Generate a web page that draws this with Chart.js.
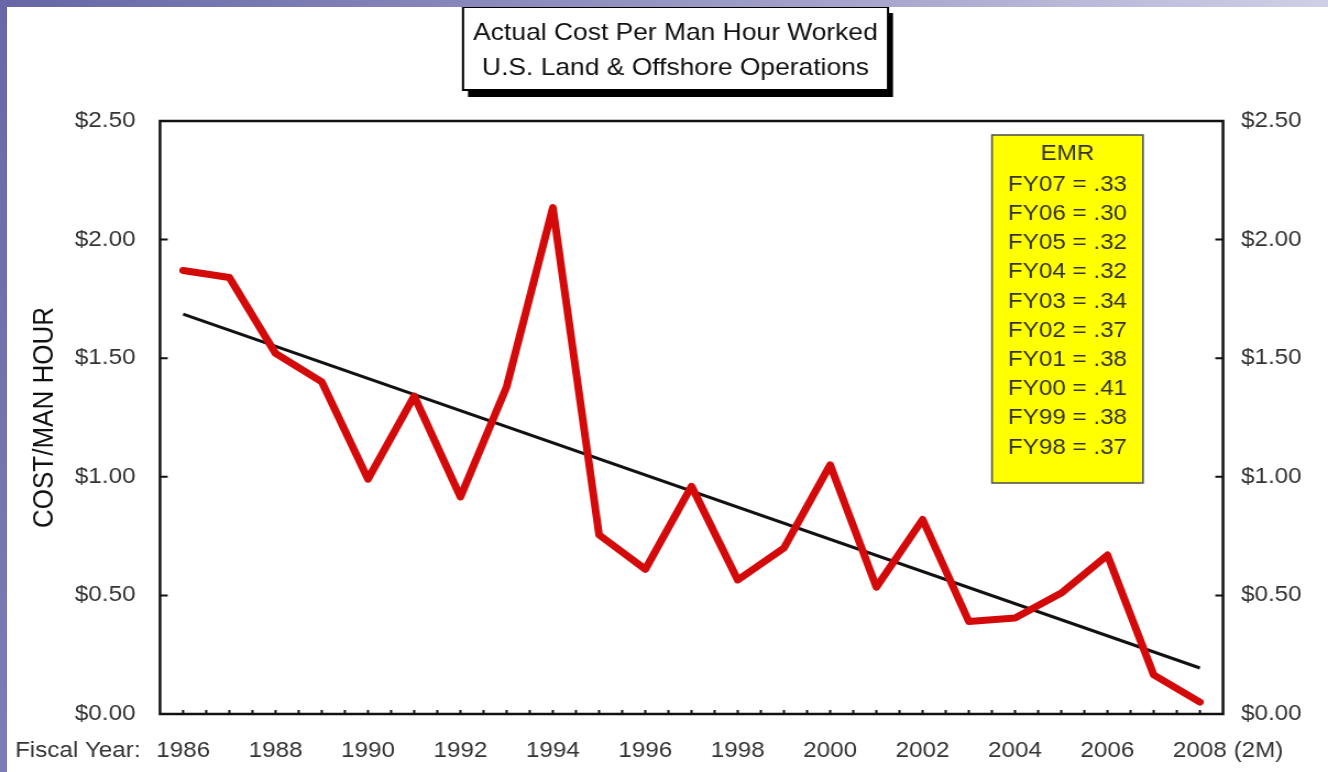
<!DOCTYPE html>
<html>
<head>
<meta charset="utf-8">
<script src="https://cdn.jsdelivr.net/npm/chart.js@4.4.1/dist/chart.umd.min.js"></script>
<style>
    html, body { margin: 0; padding: 0; background: #fff; overflow: hidden; }
    #stage { position: relative; width: 1328px; height: 772px; overflow: hidden; background: #fff; }
    #wrap { position: absolute; left: 0; top: 0; width: 1207px; height: 772px; transform-origin: 0 0; }
    #bandTop { position: absolute; left: 0; top: 0; width: 1328px; height: 7px; z-index: 2;
        background: linear-gradient(to right, #6666a6, #9a9ac6 55%, #cfcfe6); }
    #bandLeft { position: absolute; left: 0; top: 0; width: 7px; height: 772px; z-index: 2;
        background: linear-gradient(to bottom, #6868a8, #7c7cb6); }
</style>
</head>
<body>
<div id="stage">
    <div id="bandTop"></div>
    <div id="bandLeft"></div>
    <div id="wrap"><canvas id="chartCusto"></canvas></div>
</div>
<script>
// dados
const years = ['1986', '1987', '1988', '1989', '1990', '1991', '1992', '1993', '1994', '1995', '1996', '1997',
               '1998', '1999', '2000', '2001', '2002', '2003', '2004', '2005', '2006', '2007', '2008'];
const costPerManHour = [1.87, 1.84, 1.52, 1.40, 0.99, 1.34, 0.915, 1.38, 2.135, 0.755, 0.61, 0.96,
                        0.565, 0.70, 1.05, 0.535, 0.82, 0.39, 0.405, 0.51, 0.67, 0.165, 0.05];
// linha de tendencia: so as pontas
const trendLine = [1.686, null, null, null, null, null, null, null, null, null, null, null,
                   null, null, null, null, null, null, null, null, null, null, 0.194];
const yTickValues = [0, 0.5, 1.0, 1.5, 2.0, 2.5];
const titleLines = ['Actual Cost Per Man Hour Worked', 'U.S. Land & Offshore Operations'];
const emrTitle = 'EMR';
const emrYears = ['FY07', 'FY06', 'FY05', 'FY04', 'FY03', 'FY02', 'FY01', 'FY00', 'FY99', 'FY98'];
const emrValues = ['.33', '.30', '.32', '.32', '.34', '.37', '.38', '.41', '.38', '.37'];

const FONT = "'Liberation Sans', Arial, Helvetica, sans-serif";
const SX = 1328 / 1207; // a imagem original e esticada na horizontal
document.getElementById('wrap').style.transform = 'scaleX(' + SX + ')';
const px = x => x / SX;

const decorPlugin = {
    id: 'decor',
    afterDatasetsDraw(chart) {
        const ctx = chart.ctx;
        const a = chart.chartArea;
        const xs = chart.scales.x;
        const ys = chart.scales.y;
        ctx.save();

        // moldura
        ctx.strokeStyle = '#111';
        ctx.lineWidth = 2.5;
        ctx.strokeRect(a.left, a.top, a.right - a.left, a.bottom - a.top);

        // marcas internas
        ctx.lineWidth = 2;
        ctx.beginPath();
        yTickValues.forEach(v => {
            const y = ys.getPixelForValue(v);
            ctx.moveTo(a.left, y); ctx.lineTo(a.left + 7, y);
            ctx.moveTo(a.right, y); ctx.lineTo(a.right - 7, y);
        });
        for (let i = 0; i < years.length; i++) {
            const x = xs.getPixelForValue(i);
            ctx.moveTo(x, a.bottom); ctx.lineTo(x, a.bottom - 4);
            if (i < years.length - 1) {
                const xm = (x + xs.getPixelForValue(i + 1)) / 2;
                ctx.moveTo(xm, a.bottom); ctx.lineTo(xm, a.bottom - 4);
            }
        }
        ctx.stroke();

        // caixa EMR
        const bx = px(992), bw = px(1143) - px(992);
        ctx.fillStyle = '#ffff00';
        ctx.fillRect(bx, 135, bw, 348);
        ctx.strokeStyle = '#555';
        ctx.lineWidth = 1.6;
        ctx.strokeRect(bx, 135, bw, 348);
        ctx.fillStyle = '#333';
        ctx.font = '22px ' + FONT;
        ctx.textAlign = 'center';
        ctx.textBaseline = 'alphabetic';
        const cx = bx + bw / 2;
        ctx.fillText(emrTitle, cx, 160);
        emrYears.forEach((fy, i) => {
            ctx.fillText(fy + ' = ' + emrValues[i], cx, 190.7 + i * 29.2);
        });
        ctx.restore();
    },
    afterDraw(chart) {
        const ctx = chart.ctx;
        const xs = chart.scales.x;
        ctx.save();

        // titulo com sombra
        const tx = px(463), tw = px(888) - px(463);
        ctx.fillStyle = '#000';
        ctx.fillRect(tx + px(5), 13, tw, 84);
        ctx.fillStyle = '#fff';
        ctx.fillRect(tx, 7, tw, 83);
        ctx.strokeStyle = '#000';
        ctx.lineWidth = 2;
        ctx.strokeRect(tx, 7, tw, 83);
        ctx.fillStyle = '#111';
        ctx.font = '24px ' + FONT;
        ctx.textAlign = 'center';
        ctx.textBaseline = 'alphabetic';
        ctx.fillText(titleLines[0], tx + tw / 2, 39.5);
        ctx.fillText(titleLines[1], tx + tw / 2, 75);

        // titulo do eixo Y
        ctx.save();
        ctx.translate(px(45), 417.5);
        ctx.rotate(-Math.PI / 2);
        ctx.font = '26px ' + FONT;
        ctx.textBaseline = 'middle';
        ctx.fillText('COST/MAN HOUR', 0, 0);
        ctx.restore();

        // rotulos do eixo X
        ctx.font = '22px ' + FONT;
        ctx.fillStyle = '#333';
        ctx.textBaseline = 'middle';
        ctx.textAlign = 'left';
        ctx.fillText('Fiscal Year:', px(15), 751);
        const xLast = xs.getPixelForValue(years.length - 1);
        const off = ctx.measureText(years[years.length - 1]).width / 2 + ctx.measureText(' ').width;
        ctx.fillText('(2M)', xLast + off, 751);
        ctx.restore();
    }
};

const yTicks = (padding) => ({
    padding: padding,
    color: '#333',
    font: { family: FONT, size: 22 },
    callback: v => '$' + Number(v).toFixed(2)
});

const ctx = document.getElementById('chartCusto').getContext('2d');
new Chart(ctx, {
    type: 'line',
    data: {
        labels: years,
        datasets: [{
            label: 'Cost/Man Hour',
            data: costPerManHour,
            borderColor: '#d40a0a',
            borderWidth: 7,
            borderJoinStyle: 'round',
            borderCapStyle: 'round',
            pointRadius: 0,
            tension: 0,
            fill: false
        }, {
            label: 'Trend',
            data: trendLine,
            borderColor: '#111',
            borderWidth: 3,
            pointRadius: 0,
            spanGaps: true,
            tension: 0,
            fill: false
        }]
    },
    options: {
        responsive: true,
        maintainAspectRatio: false,
        animation: false,
        layout: { padding: { top: 121, left: 0, right: 0, bottom: 0 } },
        plugins: {
            legend: { display: false },
            tooltip: { enabled: false },
            title: { display: false }
        },
        scales: {
            x: {
                type: 'category',
                offset: true,
                grid: { display: false, drawTicks: false },
                border: { display: false },
                ticks: {
                    autoSkip: false,
                    maxRotation: 0,
                    padding: 24,
                    color: '#333',
                    font: { family: FONT, size: 22 },
                    callback: (v, i) => (i % 2 === 0 ? years[i] : '')
                },
                afterFit: s => { s.height = 58; }
            },
            y: {
                position: 'left',
                min: 0,
                max: 2.5,
                afterBuildTicks: s => { s.ticks = yTickValues.map(v => ({ value: v })); },
                grid: { display: false, drawTicks: false },
                border: { display: false },
                ticks: yTicks(px(24.5)),
                afterFit: s => { s.width = px(160); }
            },
            y2: {
                position: 'right',
                min: 0,
                max: 2.5,
                afterBuildTicks: s => { s.ticks = yTickValues.map(v => ({ value: v })); },
                grid: { display: false, drawTicks: false },
                border: { display: false },
                ticks: yTicks(px(18)),
                afterFit: s => { s.width = px(1328 - 1223); }
            }
        }
    },
    plugins: [decorPlugin]
});
</script>
</body>
</html>
